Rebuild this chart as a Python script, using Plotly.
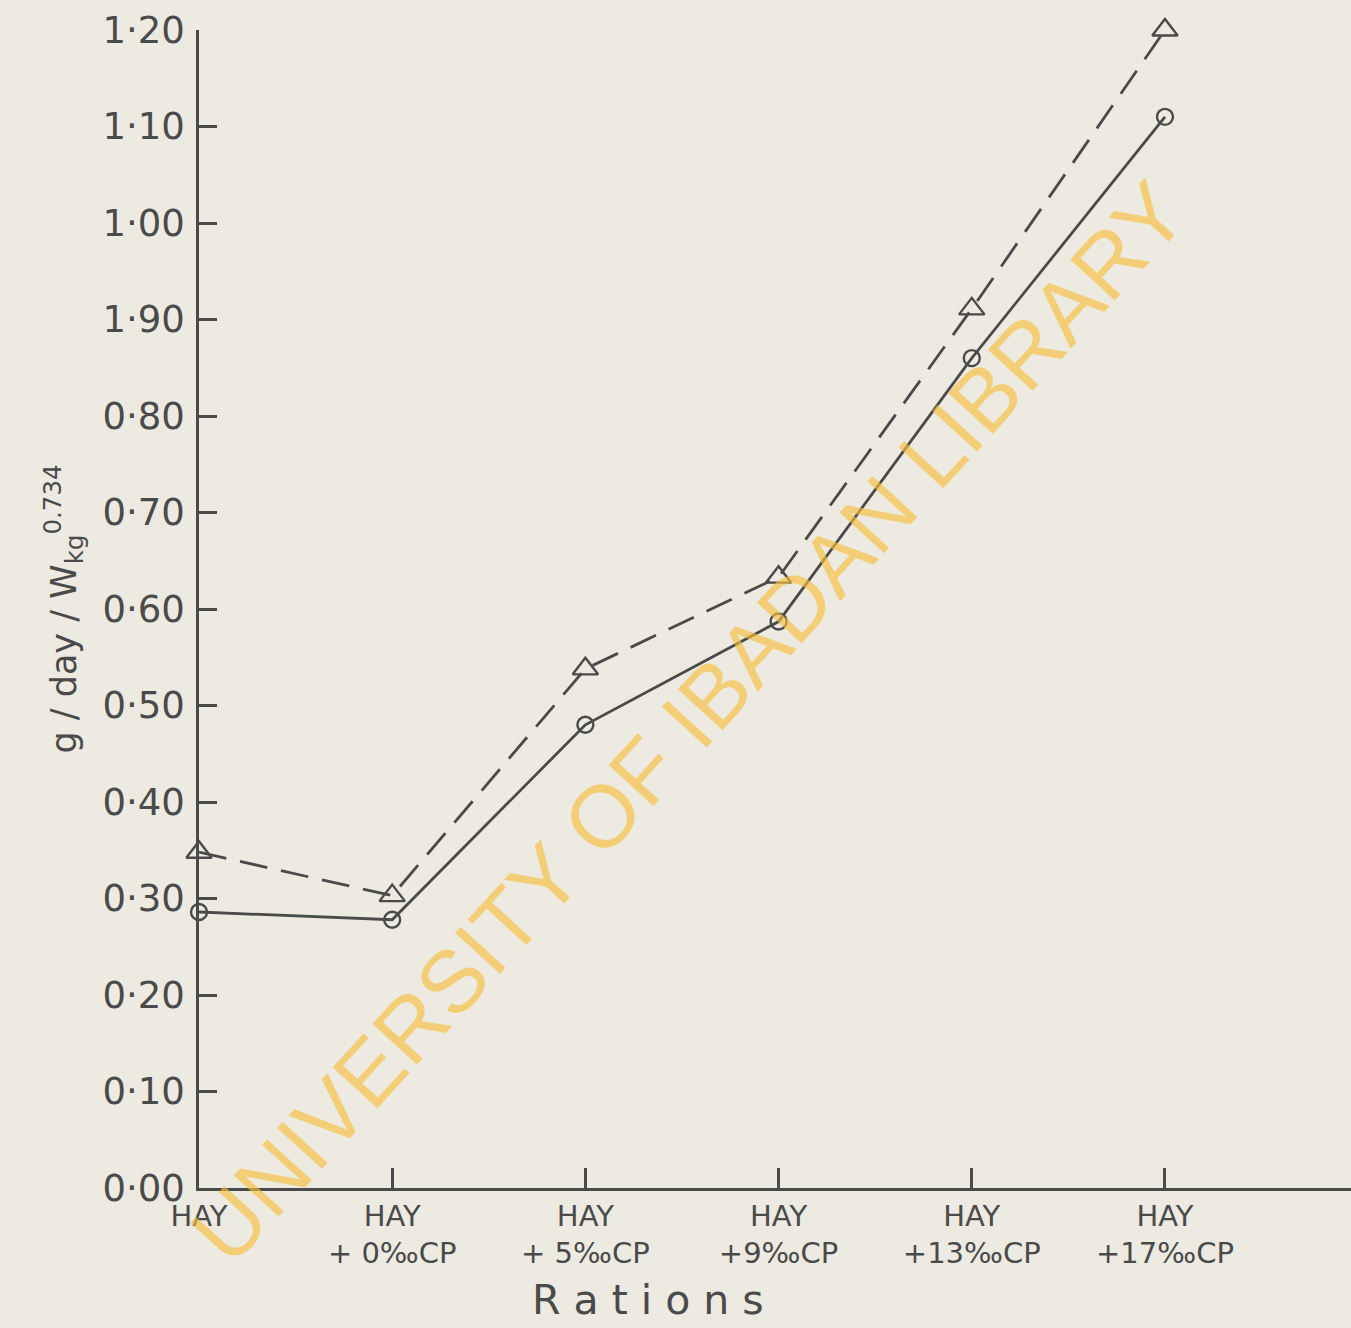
import plotly.graph_objects as go

rations = ["HAY", "HAY<br>+ 0‰CP", "HAY<br>+ 5‰CP", "HAY<br>+9‰CP", "HAY<br>+13‰CP", "HAY<br>+17‰CP"]
x_pos = [0, 1, 2, 3, 4, 5]
circle_vals = [0.286, 0.278, 0.480, 0.587, 0.860, 1.110]
triangle_vals = [0.348, 0.303, 0.538, 0.633, 0.911, 1.200]
y_ticks = [0.0, 0.1, 0.2, 0.3, 0.4, 0.5, 0.6, 0.7, 0.8, 0.9, 1.0, 1.1, 1.2]
y_ticktext = ["0·00", "0·10", "0·20", "0·30", "0·40", "0·50", "0·60", "0·70", "0·80",
              "1·90", "1·00", "1·10", "1·20"]
x_title = "R a t i o n s"

ink = "#4a4a4a"
bg = "#edebe1"

fig = go.Figure()
fig.add_trace(go.Scatter(
    x=x_pos, y=triangle_vals, mode="lines+markers",
    line=dict(color=ink, width=2.8, dash="28px,14px"),
    marker=dict(symbol="triangle-up-open", size=22, color=ink, line=dict(width=2.4)),
    cliponaxis=False, showlegend=False))
fig.add_trace(go.Scatter(
    x=x_pos, y=circle_vals, mode="lines+markers",
    line=dict(color=ink, width=2.8),
    marker=dict(symbol="circle-open", size=16, color=ink, line=dict(width=2.4)),
    cliponaxis=False, showlegend=False))

fig.update_layout(
    width=1351, height=1328,
    margin=dict(l=199, r=0, t=30, b=140),
    paper_bgcolor=bg, plot_bgcolor=bg,
    font=dict(family="DejaVu Sans", color=ink),
    xaxis=dict(
        range=[0, 5.963], tickmode="array", tickvals=x_pos, ticktext=rations,
        ticks="inside", ticklen=20, tickwidth=2.5, tickcolor=ink,
        showline=True, linecolor=ink, linewidth=2.5, showgrid=False, zeroline=False,
        tickfont=dict(size=29, color=ink), fixedrange=True),
    yaxis=dict(
        range=[0, 1.2], tickmode="array", tickvals=y_ticks, ticktext=y_ticktext,
        ticks="inside", ticklen=18, tickwidth=2.5, tickcolor=ink,
        showline=True, linecolor=ink, linewidth=2.5, showgrid=False, zeroline=False,
        tickfont=dict(size=37, color=ink), ticklabelstandoff=4,
        title=dict(text="g / day / W<sub>kg</sub><sup>0.734</sup>",
                   font=dict(size=35, color=ink), standoff=16),
        fixedrange=True),
    annotations=[
        dict(text=x_title, xref="paper", yref="paper",
             x=(648 - 199) / 1152, y=-0.097, xanchor="center", yanchor="middle",
             showarrow=False, font=dict(size=41, color=ink, family="DejaVu Sans")),
        dict(text="UNIVERSITY OF IBADAN LIBRARY", xref="paper", yref="paper",
             x=(688 - 199) / 1152, y=(1188 - 722) / 1158, xanchor="center", yanchor="middle",
             textangle=-47.6, showarrow=False,
             font=dict(size=88, color="rgba(247,190,60,0.65)", family="Liberation Sans")),
    ],
)

fig.write_html("out.html")
